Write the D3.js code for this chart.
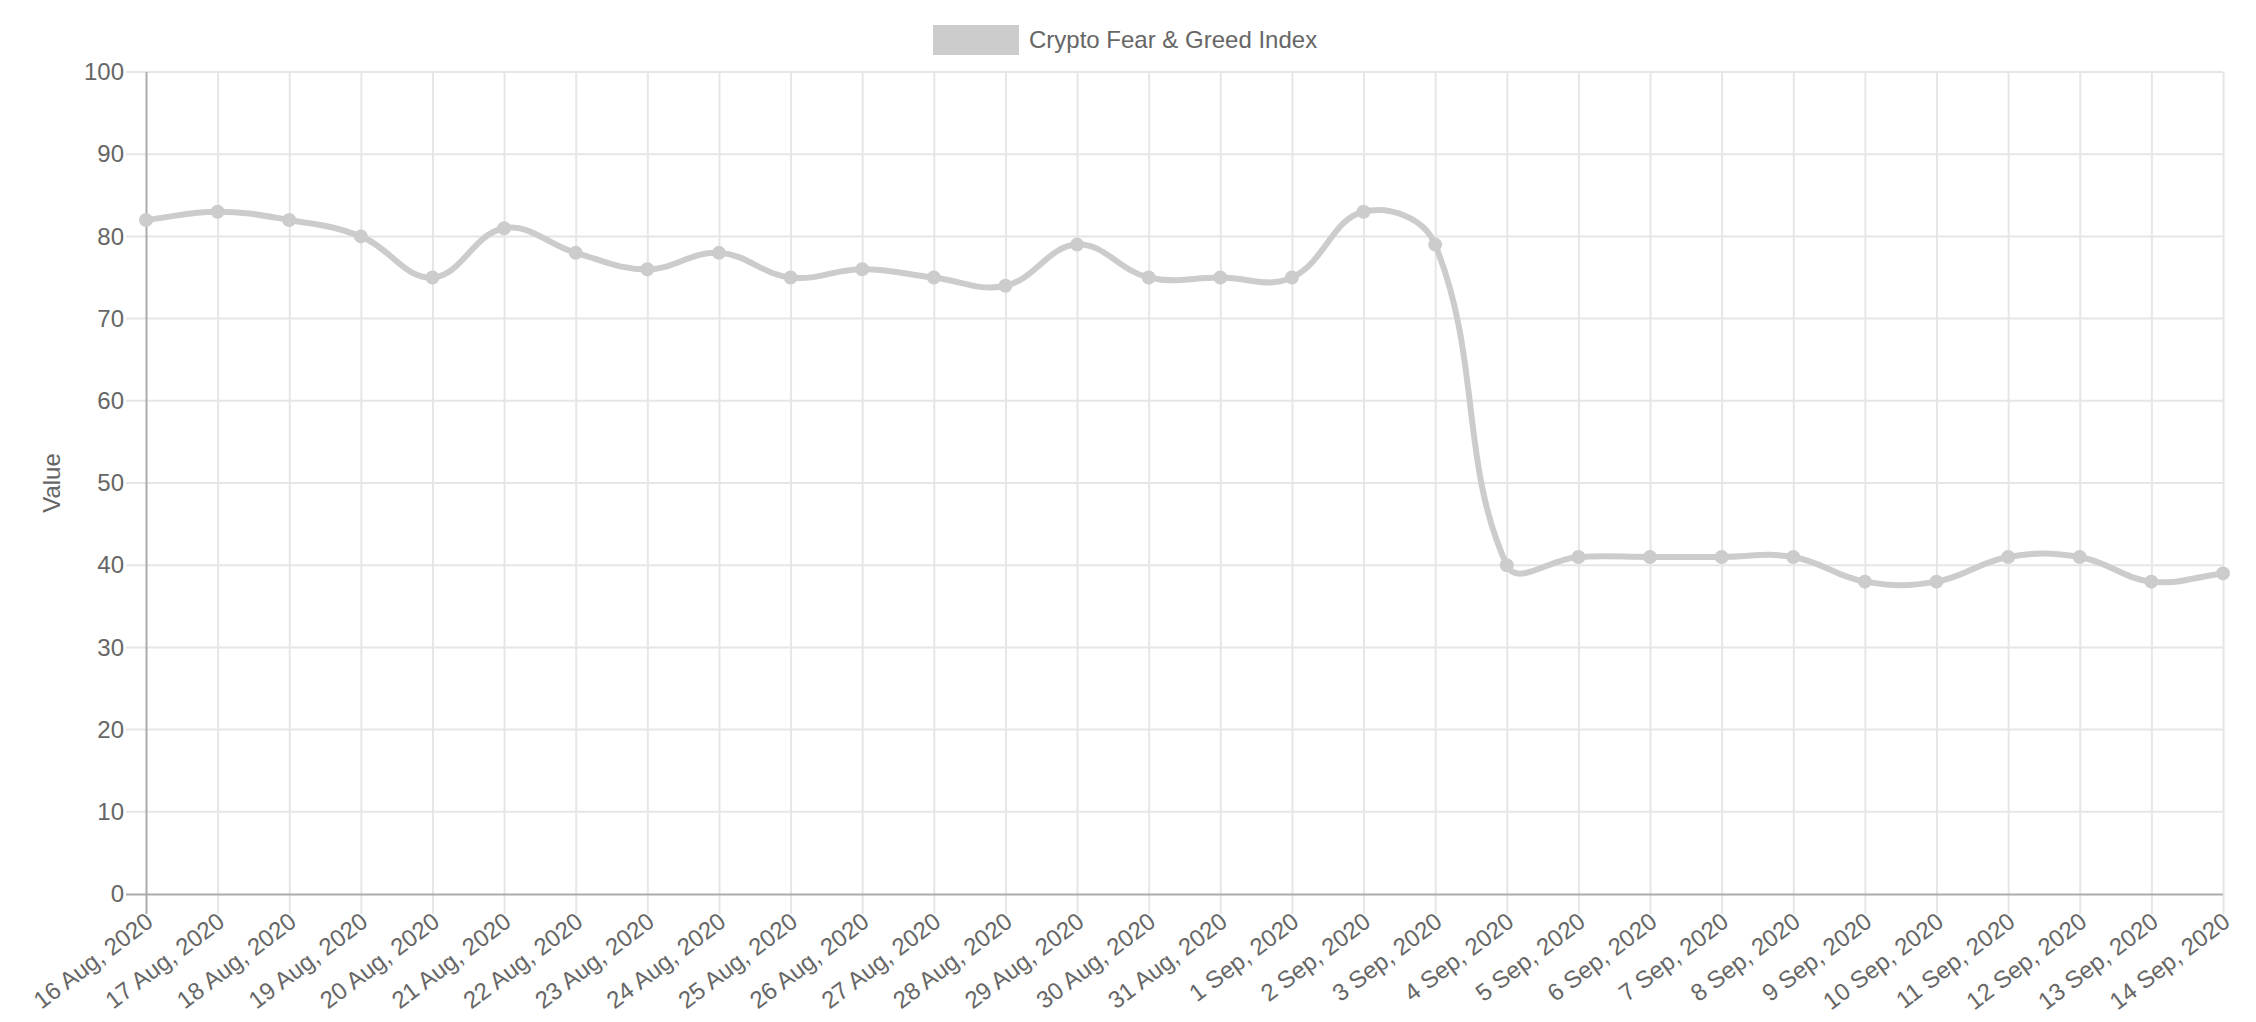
<!DOCTYPE html>
<html>
<head>
<meta charset="utf-8">
<script src="https://cdn.jsdelivr.net/npm/d3@7"></script>
<style>
  body { margin: 0; background: #fff; }
  svg { display: block; font-family: "Liberation Sans", Arial, sans-serif; }
</style>
</head>
<body>
<svg id="chart" width="2256" height="1022"></svg>
<script>
// chart data
const dates = [
  "16 Aug, 2020", "17 Aug, 2020", "18 Aug, 2020", "19 Aug, 2020", "20 Aug, 2020",
  "21 Aug, 2020", "22 Aug, 2020", "23 Aug, 2020", "24 Aug, 2020", "25 Aug, 2020",
  "26 Aug, 2020", "27 Aug, 2020", "28 Aug, 2020", "29 Aug, 2020", "30 Aug, 2020",
  "31 Aug, 2020", "1 Sep, 2020", "2 Sep, 2020", "3 Sep, 2020", "4 Sep, 2020",
  "5 Sep, 2020", "6 Sep, 2020", "7 Sep, 2020", "8 Sep, 2020", "9 Sep, 2020",
  "10 Sep, 2020", "11 Sep, 2020", "12 Sep, 2020", "13 Sep, 2020", "14 Sep, 2020"
];
const values = [
  82, 83, 82, 80, 75, 81, 78, 76, 78, 75,
  76, 75, 74, 79, 75, 75, 75, 83, 79, 40,
  41, 41, 41, 41, 38, 38, 41, 41, 38, 39
];
const yTicks = [0, 10, 20, 30, 40, 50, 60, 70, 80, 90, 100];
const seriesName = "Crypto Fear & Greed Index";

const svg = d3.select("#chart");
const plotLeft = 146, plotRight = 2223, plotTop = 72, plotBottom = 894;
const tickLen = 20;
const textColor = "#666";
const gridColor = "#e6e6e6";
const axisColor = "#acacac";
const lineColor = "#cccccc";

const x = d3.scalePoint().domain(dates).range([plotLeft, plotRight]);
const y = d3.scaleLinear().domain([0, 100]).range([plotBottom, plotTop]);

// spline like chart.js (tension 0.4, control points capped to the chart area)
function splineCurve(tension, area) {
  return function (context) {
    let pts = [];
    return {
      lineStart() { pts = []; },
      point(px, py) { pts.push({ x: +px, y: +py }); },
      lineEnd() {
        const cap = (p) => ({
          x: Math.max(area.left, Math.min(area.right, p.x)),
          y: Math.max(area.top, Math.min(area.bottom, p.y))
        });
        const cps = pts.map((cur, i) => {
          const prev = pts[Math.max(0, i - 1)];
          const next = pts[Math.min(pts.length - 1, i + 1)];
          const d01 = Math.hypot(cur.x - prev.x, cur.y - prev.y);
          const d12 = Math.hypot(next.x - cur.x, next.y - cur.y);
          let s01 = d01 / (d01 + d12), s12 = d12 / (d01 + d12);
          if (isNaN(s01)) s01 = 0;
          if (isNaN(s12)) s12 = 0;
          const fa = tension * s01, fb = tension * s12;
          return {
            prev: cap({ x: cur.x - fa * (next.x - prev.x), y: cur.y - fa * (next.y - prev.y) }),
            next: cap({ x: cur.x + fb * (next.x - prev.x), y: cur.y + fb * (next.y - prev.y) })
          };
        });
        pts.forEach((p, i) => {
          if (i === 0) context.moveTo(p.x, p.y);
          else context.bezierCurveTo(cps[i - 1].next.x, cps[i - 1].next.y, cps[i].prev.x, cps[i].prev.y, p.x, p.y);
        });
      },
      areaStart() {}, areaEnd() {}
    };
  };
}

//y axis with grid
const yAxis = svg.append("g")
  .attr("transform", "translate(" + (plotLeft - tickLen) + ",0)")
  .call(d3.axisLeft(y).tickValues(yTicks).tickSize(-(plotRight - plotLeft + tickLen)).tickPadding(2));
yAxis.select(".domain").remove();
yAxis.selectAll(".tick line")
  .attr("stroke", (d) => d === 0 ? axisColor : gridColor)
  .attr("stroke-width", 2);
yAxis.selectAll(".tick text")
  .attr("fill", textColor)
  .attr("font-size", "24px")
  .attr("font-family", "Liberation Sans, Arial, sans-serif");

//x axis with grid
const xAxis = svg.append("g")
  .attr("transform", "translate(0," + (plotBottom + tickLen) + ")")
  .call(d3.axisBottom(x).tickSize(-(plotBottom - plotTop + tickLen)).tickPadding(0));
xAxis.select(".domain").remove();
xAxis.selectAll(".tick line")
  .attr("stroke", (d, i) => i === 0 ? axisColor : gridColor)
  .attr("stroke-width", 2);
xAxis.selectAll(".tick").filter((d, i) => i === 0).raise();
xAxis.selectAll(".tick text")
  .attr("fill", textColor)
  .attr("font-size", "24px")
  .attr("font-family", "Liberation Sans, Arial, sans-serif")
  .attr("text-anchor", "end")
  .attr("x", 0)
  .attr("y", 5)
  .attr("dy", "0.35em")
  .attr("transform", "rotate(-37)");

// zero line drawn above the vertical grid
yAxis.raise();
yAxis.selectAll(".tick").filter((d) => d !== 0).select("line").remove();
svg.insert("g", ":first-child")
  .selectAll("line")
  .data(yTicks.filter((d) => d !== 0))
  .enter().append("line")
  .attr("x1", plotLeft - tickLen)
  .attr("x2", plotRight)
  .attr("y1", (d) => y(d))
  .attr("y2", (d) => y(d))
  .attr("stroke", gridColor)
  .attr("stroke-width", 2);

//y title
svg.append("text")
  .attr("transform", "translate(52," + ((plotTop + plotBottom) / 2) + ") rotate(-90)")
  .attr("text-anchor", "middle")
  .attr("dy", "0.35em")
  .attr("fill", textColor)
  .attr("font-size", "24px")
  .text("Value");

//legend
const legend = svg.append("g").attr("class", "legend");
legend.append("rect")
  .attr("x", 936).attr("y", 28)
  .attr("width", 80).attr("height", 24)
  .attr("fill", lineColor)
  .attr("stroke", lineColor)
  .attr("stroke-width", 6);
legend.append("text")
  .attr("x", 1029).attr("y", 40)
  .attr("dy", "0.35em")
  .attr("fill", textColor)
  .attr("font-size", "24px")
  .text(seriesName);

//line
const area = { left: plotLeft, right: plotRight, top: plotTop, bottom: plotBottom };
const line = d3.line()
  .x((d, i) => x(dates[i]))
  .y((d) => y(d))
  .curve(splineCurve(0.4, area));

svg.append("path")
  .datum(values)
  .attr("d", line)
  .attr("fill", "none")
  .attr("stroke", lineColor)
  .attr("stroke-width", 6);

//points
svg.selectAll(".point")
  .data(values)
  .enter().append("circle")
  .attr("class", "point")
  .attr("cx", (d, i) => x(dates[i]))
  .attr("cy", (d) => y(d))
  .attr("r", 6)
  .attr("fill", lineColor)
  .attr("stroke", lineColor)
  .attr("stroke-width", 2);
</script>
</body>
</html>
